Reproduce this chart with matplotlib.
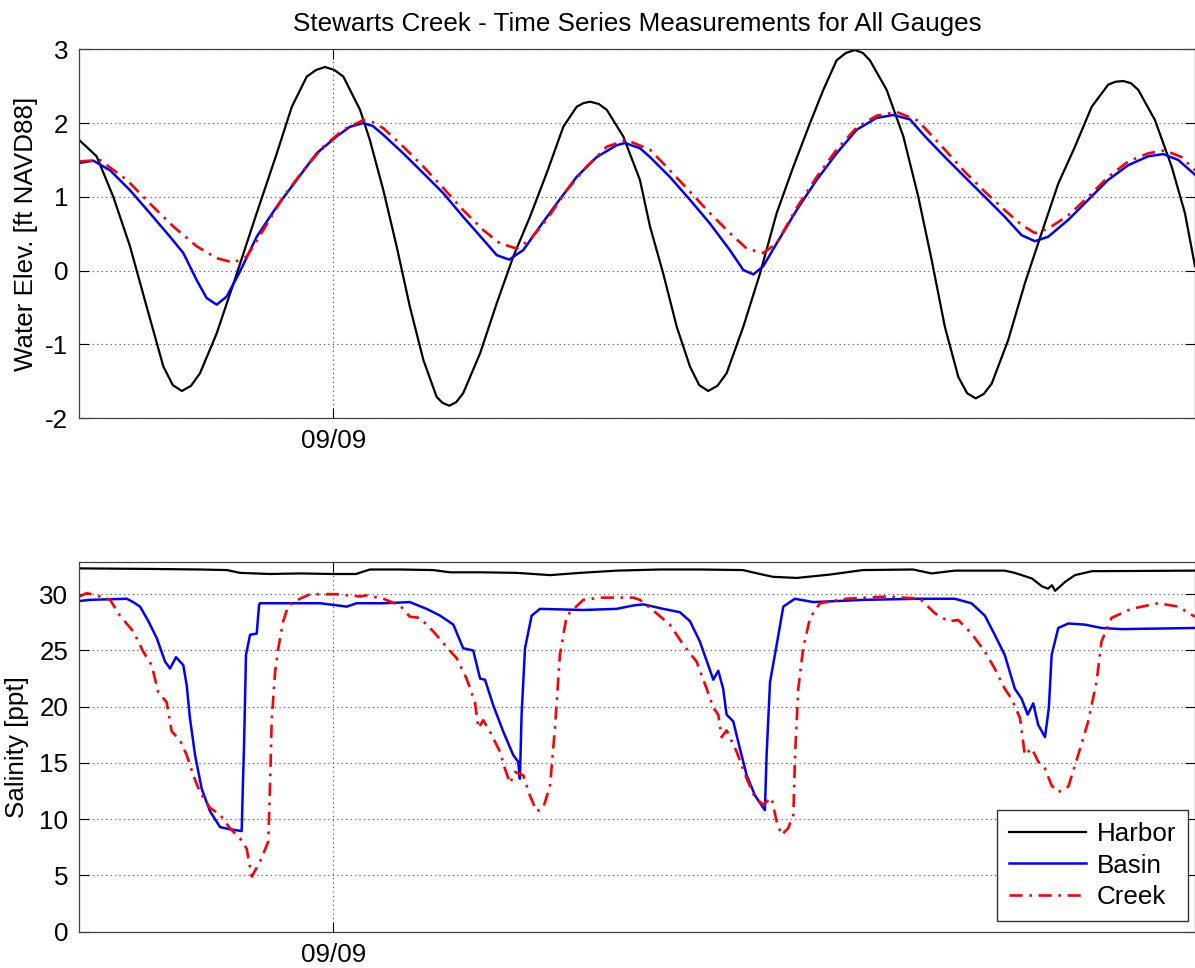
import numpy as np
import matplotlib
matplotlib.use('Agg')
from matplotlib import pyplot as plt

# time axis: hours relative to 09/09 00:00
tick_hours = [0]
tick_labels = ['09/09']
x_min, x_max = -11.87, 40.27

# water elevation [ft NAVD88]
harbor_elev_t = [-11.87, -11.06, -10.28, -9.50, -8.72, -7.94, -7.50, -7.08, -6.65, -6.23,
                 -5.45, -4.51, -3.58, -2.64, -1.94, -1.24, -0.80, -0.39, 0.05, 0.47,
                 1.25, 1.71, 2.34, 2.96, 3.58, 4.21, 4.83, 5.10, 5.42, 5.75,
                 6.07, 6.86, 7.64, 8.41, 9.19, 9.97, 10.75, 11.37, 11.68, 12.00,
                 12.40, 12.78, 13.55, 14.33, 14.80, 15.42, 16.05, 16.67, 17.10, 17.52,
                 17.95, 18.38, 19.16, 19.94, 20.72, 21.50, 22.28, 22.90, 23.52, 23.95,
                 24.38, 24.75, 25.08, 25.86, 26.64, 27.34, 27.96, 28.58, 29.21, 29.62,
                 30.02, 30.40, 30.77, 31.54, 32.32, 33.10, 33.88, 34.66, 35.44, 36.21,
                 36.55, 36.92, 37.28, 37.62, 38.40, 39.18, 39.80, 40.27]
harbor_elev = [1.77, 1.55, 1.00, 0.33, -0.49, -1.30, -1.55, -1.63, -1.56, -1.39,
               -0.85, -0.04, 0.78, 1.59, 2.22, 2.63, 2.72, 2.76, 2.72, 2.63,
               2.18, 1.77, 1.09, 0.33, -0.49, -1.21, -1.71, -1.79, -1.83, -1.78,
               -1.66, -1.12, -0.44, 0.19, 0.73, 1.32, 1.95, 2.22, 2.27, 2.29,
               2.26, 2.18, 1.82, 1.23, 0.60, -0.04, -0.76, -1.30, -1.55, -1.63,
               -1.56, -1.39, -0.76, -0.04, 0.78, 1.41, 2.00, 2.45, 2.85, 2.95,
               2.99, 2.95, 2.85, 2.45, 1.82, 1.00, 0.15, -0.76, -1.44, -1.66,
               -1.73, -1.67, -1.53, -0.94, -0.17, 0.51, 1.18, 1.68, 2.22, 2.52,
               2.56, 2.57, 2.54, 2.45, 2.04, 1.41, 0.78, 0.06]

basin_elev_t = [-11.87, -11.21, -10.43, -9.50, -8.57, -7.63, -7.01, -6.38, -5.92, -5.45,
                -4.98, -4.36, -3.58, -2.64, -1.71, -0.78, 0.16, 0.78, 1.40, 1.85,
                2.34, 3.27, 4.21, 5.14, 6.07, 7.01, 7.64, 8.22, 8.88, 9.66,
                10.44, 11.37, 12.31, 13.24, 13.63, 14.33, 14.80, 15.73, 16.67, 17.60,
                18.53, 19.16, 19.63, 20.09, 20.72, 21.65, 22.59, 23.52, 24.46, 25.39,
                26.17, 26.95, 27.65, 28.58, 29.51, 30.45, 31.38, 32.17, 32.79, 33.41,
                34.35, 35.28, 36.21, 37.15, 38.08, 38.79, 39.49, 40.27]
basin_elev = [1.46, 1.49, 1.36, 1.09, 0.78, 0.46, 0.24, -0.13, -0.37, -0.46,
              -0.35, -0.01, 0.46, 0.87, 1.23, 1.59, 1.82, 1.95, 2.00, 1.96,
              1.84, 1.59, 1.32, 1.05, 0.73, 0.42, 0.21, 0.15, 0.28, 0.60,
              0.91, 1.27, 1.54, 1.70, 1.73, 1.66, 1.54, 1.27, 0.96, 0.64,
              0.28, 0.01, -0.05, 0.06, 0.37, 0.82, 1.23, 1.59, 1.91, 2.07,
              2.11, 2.05, 1.82, 1.54, 1.27, 1.00, 0.73, 0.48, 0.40, 0.46,
              0.69, 0.96, 1.23, 1.43, 1.55, 1.58, 1.50, 1.30]

creek_elev_t = [-11.87, -10.90, -9.65, -8.57, -7.48, -6.38, -5.45, -4.67, -4.05, -3.27,
                -2.34, -1.40, -0.47, 0.47, 1.40, 1.85, 2.34, 3.27, 4.21, 5.14,
                6.07, 7.01, 7.79, 8.57, 9.19, 9.97, 10.91, 11.84, 12.78, 13.71,
                14.80, 15.73, 16.67, 17.60, 18.53, 19.32, 20.09, 20.72, 21.65, 22.59,
                23.52, 24.46, 25.39, 26.33, 27.27, 27.65, 28.58, 29.51, 30.45, 31.38,
                32.17, 32.79, 33.41, 34.35, 35.28, 36.21, 37.15, 38.08, 38.86, 39.64,
                40.27]
creek_elev = [1.48, 1.50, 1.23, 0.91, 0.60, 0.33, 0.17, 0.11, 0.19, 0.55,
              1.00, 1.36, 1.68, 1.91, 2.04, 2.01, 1.93, 1.68, 1.41, 1.12,
              0.82, 0.55, 0.37, 0.30, 0.42, 0.69, 1.09, 1.41, 1.68, 1.77,
              1.64, 1.36, 1.07, 0.78, 0.51, 0.30, 0.24, 0.37, 0.85, 1.27,
              1.64, 1.94, 2.10, 2.15, 2.04, 1.93, 1.64, 1.34, 1.07, 0.82,
              0.62, 0.51, 0.57, 0.75, 1.00, 1.27, 1.48, 1.59, 1.63, 1.54,
              1.36]

# salinity [ppt]
harbor_sal_t = [-11.87, -8.57, -6.23, -4.97, -4.36, -2.96, -1.56, -0.01, 1.06, 1.71,
                3.12, 4.66, 5.45, 6.86, 8.58, 10.13, 11.53, 13.26, 15.26, 17.13,
                19.14, 19.94, 20.54, 21.66, 23.21, 24.75, 27.09, 27.96, 29.04, 31.38,
                31.85, 32.65, 33.12, 33.40, 33.59, 33.73, 34.20, 34.66, 35.45, 40.27]
harbor_sal = [32.3, 32.25, 32.2, 32.15, 31.9, 31.8, 31.85, 31.8, 31.8, 32.2,
              32.2, 32.15, 31.95, 31.95, 31.9, 31.7, 31.9, 32.1, 32.2, 32.2,
              32.15, 31.8, 31.55, 31.45, 31.75, 32.15, 32.2, 31.85, 32.1, 32.1,
              31.9, 31.4, 30.7, 30.5, 30.8, 30.3, 31.1, 31.7, 32.05, 32.1]

basin_sal_t = [-11.87, -11.37, -9.65, -9.35, -9.03, -8.64, -8.25, -7.86, -7.63, -7.35,
               -7.01, -6.85, -6.70, -6.46, -6.15, -5.76, -5.29, -4.83, -4.28, -4.23,
               -4.17, -4.08, -3.89, -3.58, -3.47, -3.43, -2.18, -0.62, 0.63, 1.09,
               2.34, 3.58, 4.36, 4.99, 5.61, 6.07, 6.54, 6.86, 7.09, 7.48,
               7.94, 8.41, 8.64, 8.72, 8.80, 8.96, 9.27, 9.66, 11.68, 13.24,
               14.02, 14.49, 15.42, 16.20, 16.67, 17.13, 17.52, 17.76, 17.99, 18.22,
               18.38, 18.69, 19.00, 19.32, 19.71, 20.17, 20.25, 20.41, 20.72, 21.03,
               21.57, 22.43, 24.77, 27.42, 29.04, 29.82, 30.45, 30.91, 31.38, 31.85,
               32.17, 32.45, 32.71, 32.94, 33.26, 33.44, 33.57, 33.88, 34.35, 35.12,
               35.90, 36.84, 40.27]
basin_sal = [29.4, 29.5, 29.6, 29.3, 28.9, 27.6, 26.1, 24.0, 23.4, 24.4,
             23.7, 21.9, 19.0, 15.7, 12.7, 10.7, 9.3, 9.1, 8.95, 12.7,
             16.6, 24.6, 26.4, 26.5, 29.0, 29.2, 29.2, 29.2, 28.9, 29.2,
             29.2, 29.3, 28.7, 28.1, 27.3, 25.2, 25.0, 22.5, 22.4, 20.1,
             17.8, 15.7, 15.1, 13.6, 19.3, 25.2, 28.1, 28.7, 28.6, 28.7,
             29.0, 29.1, 28.7, 28.4, 27.6, 25.8, 23.7, 22.4, 23.2, 21.6,
             19.3, 18.7, 16.3, 13.9, 12.1, 10.8, 15.7, 22.2, 25.5, 28.9,
             29.6, 29.3, 29.5, 29.6, 29.6, 29.2, 28.1, 26.4, 24.6, 21.6,
             20.7, 19.3, 20.3, 18.4, 17.3, 19.9, 24.6, 27.0, 27.4, 27.3,
             27.0, 26.9, 27.0]

creek_sal_t = [-11.87, -11.52, -10.90, -10.43, -9.97, -9.35, -8.88, -8.49, -8.18, -7.79,
               -7.55, -7.16, -6.85, -6.54, -6.23, -5.76, -5.29, -4.83, -4.36, -4.05,
               -3.81, -3.43, -3.04, -2.96, -2.88, -2.72, -2.57, -2.34, -2.10, -1.56,
               -1.09, 0.16, 1.25, 1.56, 2.34, 3.12, 3.58, 4.05, 4.67, 5.30,
               5.77, 6.23, 6.62, 6.78, 7.01, 7.32, 7.79, 8.02, 8.26, 8.49,
               8.88, 9.19, 9.50, 9.81, 10.13, 10.36, 10.59, 10.91, 11.68, 12.46,
               14.02, 14.33, 15.11, 15.73, 16.36, 16.98, 17.45, 17.76, 17.99, 18.15,
               18.38, 18.85, 19.32, 19.71, 20.09, 20.48, 20.72, 20.95, 21.26, 21.50,
               21.58, 21.73, 21.96, 22.28, 22.74, 23.99, 25.86, 27.42, 28.12, 28.74,
               29.21, 29.83, 30.45, 30.91, 31.38, 31.70, 32.09, 32.32, 32.64, 32.95,
               33.26, 33.57, 33.88, 34.35, 34.81, 35.28, 35.67, 35.90, 36.37, 37.30,
               38.54, 39.48, 40.27]
creek_sal = [29.8, 30.1, 29.8, 29.5, 28.1, 26.7, 24.9, 23.7, 21.3, 20.4,
             17.8, 17.0, 15.7, 13.9, 12.4, 11.0, 10.4, 9.2, 8.3, 7.4,
             4.9, 6.2, 8.0, 12.7, 18.7, 23.1, 25.2, 27.6, 29.0, 29.6,
             30.0, 30.0, 29.8, 29.9, 29.6, 29.0, 28.0, 27.9, 26.7, 25.3,
             24.3, 22.5, 20.4, 18.1, 18.8, 17.8, 16.0, 14.5, 13.2, 14.2,
             13.9, 12.1, 10.7, 11.0, 13.0, 18.1, 24.6, 28.1, 29.5, 29.7,
             29.7, 29.5, 28.3, 27.3, 25.5, 24.0, 21.6, 19.9, 19.3, 17.3,
             17.9, 16.0, 13.6, 11.9, 11.3, 11.9, 9.8, 8.6, 9.2, 10.4,
             15.7, 21.6, 25.2, 27.9, 29.2, 29.6, 29.8, 29.6, 28.3, 27.6,
             27.7, 26.5, 24.9, 23.4, 21.6, 20.7, 19.0, 15.7, 16.3, 15.1,
             14.5, 13.0, 12.4, 12.9, 15.7, 18.7, 22.2, 25.8, 27.9, 28.7,
             29.2, 28.9, 28.0]

plt.rcParams['font.family'] = ['Liberation Sans', 'DejaVu Sans']
plt.rcParams['axes.unicode_minus'] = False
fs = 18.7
creek_ls = (0, (5, 2.5, 1, 2.5))

fig = plt.figure(figsize=(11.95, 9.68), dpi=100)
W, H = 1195.0, 968.0
ax1 = fig.add_axes([79.3 / W, 1 - 418.3 / H, (W - 79.3) / W, 369.0 / H])
ax2 = fig.add_axes([79.3 / W, 1 - 931.7 / H, (W - 79.3) / W, 369.4 / H])

ax1.plot(harbor_elev_t, harbor_elev, color='k', lw=1.6)
ax1.plot(basin_elev_t, basin_elev, color='b', lw=1.8)
ax1.plot(creek_elev_t, creek_elev, color='r', lw=1.9, linestyle=creek_ls)
ax1.set_ylim(-2, 3)
ax1.set_yticks([-2, -1, 0, 1, 2, 3])
ax1.set_ylabel('Water Elev. [ft NAVD88]', fontsize=fs)
ax1.yaxis.set_label_coords(-0.037, 0.5)
ax1.set_title('Stewarts Creek - Time Series Measurements for All Gauges', fontsize=fs, pad=13)

ax2.plot(harbor_sal_t, harbor_sal, color='k', lw=1.6, label='Harbor')
ax2.plot(basin_sal_t, basin_sal, color='b', lw=1.8, label='Basin')
ax2.plot(creek_sal_t, creek_sal, color='r', lw=1.9, linestyle=creek_ls, label='Creek')
ax2.set_ylim(0, 32.84)
ax2.set_yticks([0, 5, 10, 15, 20, 25, 30])
ax2.set_ylabel('Salinity [ppt]', fontsize=fs)
ax2.yaxis.set_label_coords(-0.045, 0.5)

for ax in (ax1, ax2):
    ax.set_xlim(x_min, x_max)
    ax.set_xticks(tick_hours)
    ax.set_xticklabels(tick_labels)
    ax.grid(True, color='0.25', linestyle=(0, (1, 3)), lw=0.8)
    ax.tick_params(direction='in', length=7, width=0.8, labelsize=fs, pad=8,
                   top=True, right=True)
    for sp in ax.spines.values():
        sp.set_linewidth(0.9)
        sp.set_color('0.25')

leg = ax2.legend(loc='lower right', bbox_to_anchor=(1188 / W, 1 - 921 / H),
                 bbox_transform=fig.transFigure, fontsize=fs, frameon=True,
                 fancybox=False, framealpha=1, edgecolor='0.2', handlelength=3.0,
                 handletextpad=0.4, borderpad=0.45, labelspacing=0.3,
                 borderaxespad=0)
leg.get_frame().set_linewidth(1.0)

plt.savefig('out.png', dpi=100, facecolor='white')
